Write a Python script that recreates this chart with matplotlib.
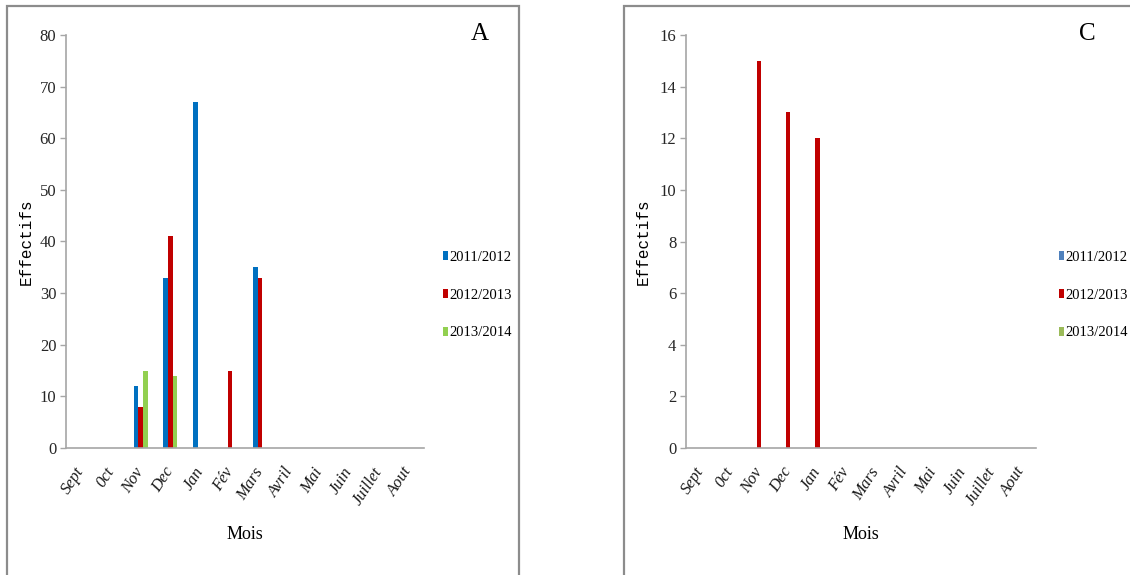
import matplotlib
matplotlib.use('Agg')
import matplotlib.pyplot as plt
from matplotlib.patches import Rectangle, Patch
import numpy as np

# Données
mois = ['Sept', '0ct', 'Nov', 'Dec', 'Jan', 'Fév', 'Mars', 'Avril', 'Mai', 'Juin', 'Juillet', 'Aout']
saisons = ['2011/2012', '2012/2013', '2013/2014']

# Graphe A
a_2011 = [0, 0, 12, 33, 67, 0, 35, 0, 0, 0, 0, 0]
a_2012 = [0, 0, 8, 41, 0, 15, 33, 0, 0, 0, 0, 0]
a_2013 = [0, 0, 15, 14, 0, 0, 0, 0, 0, 0, 0, 0]

# Graphe C
c_2011 = [0, 0, 0, 0, 0, 0, 0, 0, 0, 0, 0, 0]
c_2012 = [0, 0, 15, 13, 12, 0, 0, 0, 0, 0, 0, 0]
c_2013 = [0, 0, 0, 0, 0, 0, 0, 0, 0, 0, 0, 0]

couleurs_a = ['#0070C0', '#C00000', '#92D050']
couleurs_c = ['#4F81BD', '#C00000', '#9BBB59']

W, H = 1130, 575
SERIF = 'Liberation Serif'
GRIS = '#a6a6a6'

fig = plt.figure(figsize=(W / 100, H / 100), dpi=100)
fig.patch.set_facecolor('white')


def px_rect(x0, y0, x1, y1):
    """Convertit des pixels (haut-gauche) en coordonnées figure."""
    return [x0 / W, 1 - y1 / H, (x1 - x0) / W, (y1 - y0) / H]


# Cadres autour des graphes
for x0, x1 in [(7, 519), (624, 1140)]:
    fig.add_artist(Rectangle((x0 / W, -0.05), (x1 - x0) / W, 1 - 6 / H + 0.05,
                             transform=fig.transFigure, fill=False,
                             edgecolor='#8c8c8c', lw=1.6))


def trace(rect, series, couleurs, ymax, ystep, lettre, lettre_x, legende_x, label_x):
    ax = fig.add_axes(px_rect(*rect))
    x = np.arange(len(mois))
    w = 0.158
    for i, (vals, c) in enumerate(zip(series, couleurs)):
        ax.bar(x + (i - 1) * w, vals, width=w, color=c, linewidth=0)

    ax.set_xlim(-0.5, len(mois) - 0.5)
    ax.set_ylim(0, ymax)
    ax.set_yticks(np.arange(0, ymax + 1, ystep))
    ax.set_xticks(x)
    ax.set_xticklabels(mois, rotation=57, ha='right', va='center',
                       rotation_mode='anchor', family=SERIF, style='italic',
                       fontsize=12, color='#1a1a1a')
    for t in ax.get_yticklabels():
        t.set_family(SERIF)
        t.set_fontsize(12)
        t.set_color('#262626')

    ax.tick_params(axis='x', length=0, pad=15)
    ax.tick_params(axis='y', length=4, width=1, color=GRIS, pad=3)
    for s in ['top', 'right']:
        ax.spines[s].set_visible(False)
    for s in ['left', 'bottom']:
        ax.spines[s].set_color(GRIS)
        ax.spines[s].set_linewidth(1.2)

    ax.set_ylabel('Effectifs', family='Liberation Mono', fontsize=11.5)
    ax.yaxis.set_label_coords(label_x, 0.5)
    ax.set_xlabel('Mois', family=SERIF, fontsize=13)
    ax.xaxis.set_label_coords(0.5, -0.21)
    ax.xaxis.label.set_va('center')

    fig.text(lettre_x / W, 1 - 34 / H, lettre, family=SERIF, fontsize=18,
             ha='center', va='center')

    handles = [Patch(facecolor=c, edgecolor='none', label=s)
               for c, s in zip(couleurs, saisons)]
    fig.legend(handles=handles, loc='center left',
               bbox_to_anchor=(legende_x / W, 1 - 295 / H), frameon=False,
               prop={'family': SERIF, 'size': 10.5}, handlelength=0.35,
               handleheight=0.6, handletextpad=0.1, labelspacing=1.7,
               borderpad=0, borderaxespad=0)
    return ax


trace((66, 35, 424, 448), [a_2011, a_2012, a_2013], couleurs_a, 80, 10,
      'A', 480, 443, -0.09)
trace((686, 35, 1036, 448), [c_2011, c_2012, c_2013], couleurs_c, 16, 2,
      'C', 1087, 1059, -0.1)

plt.savefig('out.png', dpi=100)
plt.close()
